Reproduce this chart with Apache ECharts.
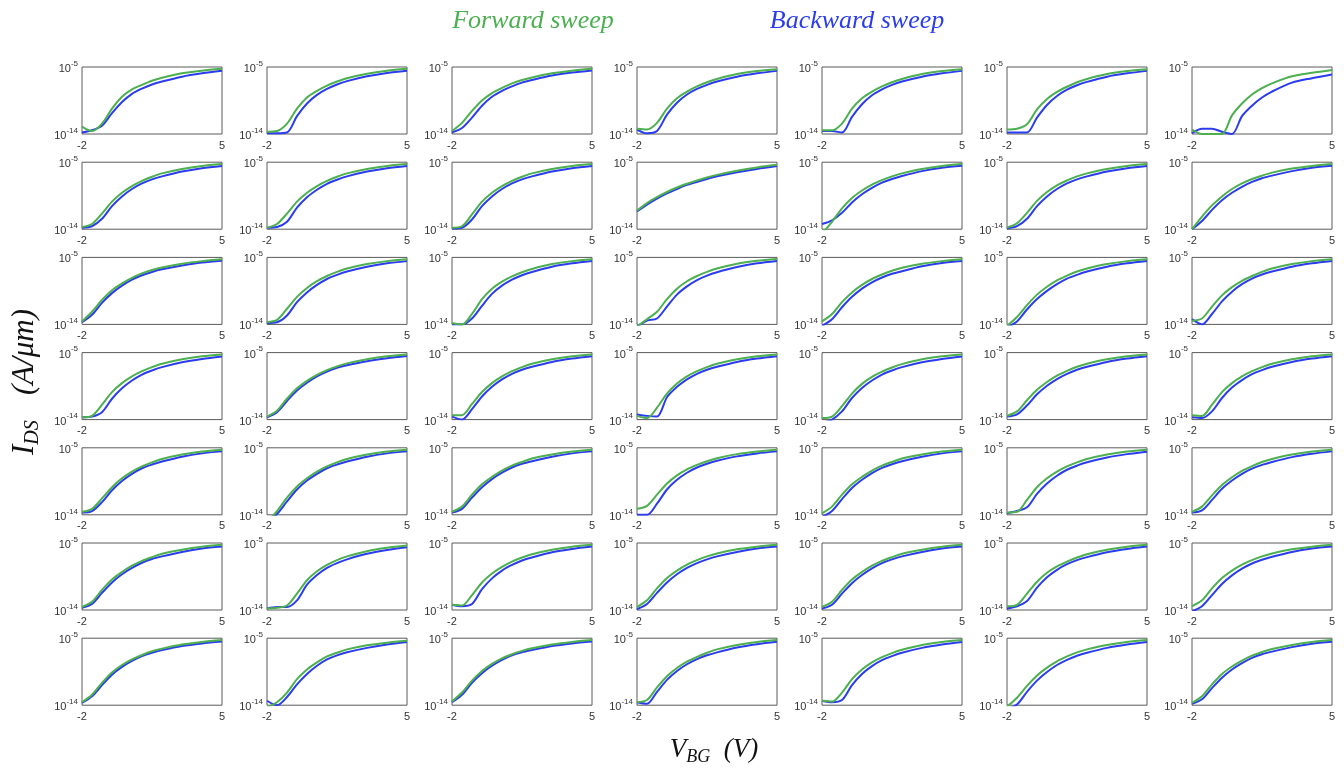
<!DOCTYPE html>
<html>
<head>
<meta charset="utf-8">
<script src="https://cdn.jsdelivr.net/npm/echarts@6/dist/echarts.min.js"></script>
<style>
  html, body { margin: 0; padding: 0; background: #ffffff; }
  #chart { width: 1344px; height: 772px; }
</style>
</head>
<body>
<div id="chart"></div>
<script>
// Back-gate sweep points (V)
const gateVoltage = [-2, -1.5, -1, -0.5, 0, 0.5, 1, 1.5, 2, 3, 4, 5];

// Axis tick labels
const xTicks = [-2, 5];
const yTickExponents = [-14, -5];

// log10 of I_DS (A/µm) for each device, forward sweep, one row of 7 devices per array
const forwardRow1 = [
  [-13.0, -13.6, -12.6, -10.6, -9.0, -8.0, -7.4, -6.85, -6.45, -5.85, -5.5, -5.25],
  [-13.7, -13.6, -12.6, -10.6, -9.1, -8.2, -7.5, -6.95, -6.5, -5.9, -5.5, -5.25],
  [-13.6, -12.5, -10.9, -9.5, -8.5, -7.8, -7.2, -6.75, -6.4, -5.85, -5.5, -5.25],
  [-13.3, -13.4, -12.5, -10.6, -9.2, -8.3, -7.6, -7.05, -6.6, -5.95, -5.55, -5.3],
  [-13.5, -13.5, -12.6, -10.6, -9.2, -8.3, -7.6, -7.05, -6.6, -5.95, -5.55, -5.3],
  [-13.4, -13.3, -12.7, -10.7, -9.3, -8.35, -7.65, -7.05, -6.6, -5.95, -5.55, -5.3],
  [-13.4, -14.0, -14.0, -14.0, -11.5, -9.9, -8.7, -7.85, -7.2, -6.25, -5.78, -5.4]
];
const forwardRow2 = [
  [-13.7, -13.3, -11.9, -10.3, -9.1, -8.2, -7.5, -6.95, -6.5, -5.9, -5.5, -5.25],
  [-13.8, -13.3, -11.9, -10.3, -9.1, -8.2, -7.5, -6.95, -6.5, -5.9, -5.5, -5.25],
  [-13.8, -13.6, -12.0, -10.3, -9.1, -8.2, -7.5, -6.95, -6.5, -5.9, -5.5, -5.25],
  [-11.5, -10.5, -9.7, -9.0, -8.4, -7.9, -7.45, -7.05, -6.7, -6.15, -5.7, -5.35],
  [-14.6, -13.0, -11.2, -9.8, -8.8, -8.0, -7.4, -6.9, -6.5, -5.9, -5.5, -5.25],
  [-13.8, -13.2, -11.8, -10.2, -9.0, -8.1, -7.45, -6.9, -6.5, -5.9, -5.5, -5.25],
  [-14.0, -12.3, -10.8, -9.6, -8.6, -7.85, -7.25, -6.8, -6.4, -5.85, -5.5, -5.25]
];
const forwardRow3 = [
  [-13.6, -12.3, -10.7, -9.4, -8.5, -7.75, -7.15, -6.7, -6.35, -5.85, -5.5, -5.25],
  [-13.7, -13.4, -11.9, -10.3, -9.1, -8.2, -7.5, -6.95, -6.5, -5.9, -5.5, -5.25],
  [-13.8, -14.0, -12.6, -10.6, -9.2, -8.25, -7.55, -7.0, -6.55, -5.9, -5.5, -5.25],
  [-14.3, -13.3, -12.3, -10.6, -9.2, -8.2, -7.5, -6.95, -6.5, -5.85, -5.45, -5.2],
  [-13.6, -12.6, -11.0, -9.7, -8.7, -7.9, -7.3, -6.8, -6.4, -5.85, -5.5, -5.25],
  [-14.2, -13.0, -11.4, -10.0, -8.95, -8.1, -7.45, -6.9, -6.5, -5.9, -5.5, -5.25],
  [-13.5, -13.2, -11.6, -10.1, -9.0, -8.15, -7.5, -6.95, -6.5, -5.9, -5.5, -5.25]
];
const forwardRow4 = [
  [-13.7, -13.5, -12.0, -10.3, -9.1, -8.2, -7.5, -6.95, -6.5, -5.9, -5.5, -5.25],
  [-13.6, -12.8, -11.2, -9.8, -8.8, -8.0, -7.35, -6.85, -6.45, -5.9, -5.5, -5.25],
  [-13.4, -13.4, -11.9, -10.3, -9.1, -8.2, -7.5, -6.95, -6.5, -5.9, -5.5, -5.25],
  [-13.5, -13.8, -12.4, -10.5, -9.15, -8.2, -7.5, -6.95, -6.5, -5.9, -5.5, -5.25],
  [-13.8, -13.6, -12.2, -10.5, -9.2, -8.25, -7.55, -7.0, -6.55, -5.9, -5.5, -5.25],
  [-13.5, -12.9, -11.4, -10.0, -8.95, -8.1, -7.45, -6.9, -6.5, -5.9, -5.5, -5.25],
  [-13.4, -13.5, -12.0, -10.3, -9.1, -8.2, -7.5, -6.95, -6.5, -5.9, -5.5, -5.25]
];
const forwardRow5 = [
  [-13.6, -13.2, -11.8, -10.3, -9.1, -8.2, -7.5, -6.95, -6.5, -5.9, -5.5, -5.25],
  [-15.0, -13.5, -11.7, -10.2, -9.1, -8.2, -7.5, -6.95, -6.5, -5.9, -5.5, -5.25],
  [-13.6, -12.9, -11.3, -9.9, -8.9, -8.05, -7.4, -6.9, -6.45, -5.9, -5.5, -5.25],
  [-13.2, -12.8, -11.3, -9.8, -8.7, -7.9, -7.3, -6.8, -6.4, -5.85, -5.5, -5.25],
  [-13.8, -12.9, -11.3, -9.9, -8.9, -8.05, -7.4, -6.9, -6.45, -5.9, -5.5, -5.25],
  [-13.7, -13.6, -12.0, -10.3, -9.1, -8.2, -7.5, -6.95, -6.5, -5.9, -5.5, -5.25],
  [-13.6, -12.9, -11.4, -10.0, -8.95, -8.1, -7.45, -6.9, -6.5, -5.9, -5.5, -5.25]
];
const forwardRow6 = [
  [-13.6, -12.9, -11.3, -9.9, -8.9, -8.05, -7.4, -6.9, -6.45, -5.9, -5.5, -5.25],
  [-13.8, -13.7, -13.4, -11.8, -10.0, -8.8, -7.95, -7.3, -6.8, -6.1, -5.65, -5.35],
  [-13.3, -13.4, -12.0, -10.3, -9.1, -8.2, -7.5, -6.95, -6.5, -5.9, -5.5, -5.25],
  [-13.6, -12.7, -11.1, -9.7, -8.7, -7.9, -7.3, -6.8, -6.4, -5.85, -5.5, -5.25],
  [-13.6, -12.9, -11.3, -9.9, -8.9, -8.05, -7.4, -6.9, -6.45, -5.9, -5.5, -5.25],
  [-13.5, -13.3, -11.8, -10.2, -9.0, -8.15, -7.5, -6.95, -6.5, -5.9, -5.5, -5.25],
  [-13.5, -12.7, -11.1, -9.7, -8.7, -7.9, -7.3, -6.8, -6.4, -5.85, -5.5, -5.25]
];
const forwardRow7 = [
  [-13.6, -12.6, -11.0, -9.6, -8.6, -7.85, -7.25, -6.75, -6.4, -5.85, -5.5, -5.25],
  [-14.3, -13.6, -12.3, -10.5, -9.2, -8.25, -7.45, -6.95, -6.5, -5.95, -5.6, -5.35],
  [-13.5, -12.3, -10.7, -9.4, -8.45, -7.7, -7.15, -6.7, -6.35, -5.85, -5.5, -5.25],
  [-13.6, -13.3, -11.6, -10.1, -9.0, -8.15, -7.5, -6.95, -6.5, -5.9, -5.5, -5.25],
  [-13.4, -13.5, -12.3, -10.5, -9.2, -8.25, -7.55, -7.0, -6.55, -5.9, -5.5, -5.25],
  [-14.2, -13.0, -11.4, -10.0, -8.95, -8.1, -7.45, -6.9, -6.5, -5.9, -5.5, -5.25],
  [-13.7, -12.8, -11.2, -9.8, -8.8, -8.0, -7.35, -6.85, -6.45, -5.9, -5.5, -5.25]
];

// log10 of I_DS (A/µm) for each device, backward sweep
const backwardRow1 = [
  [-13.8, -13.5, -12.9, -11.2, -9.7, -8.6, -7.9, -7.35, -6.95, -6.3, -5.85, -5.5],
  [-13.9, -13.9, -13.8, -11.6, -9.9, -8.75, -7.95, -7.35, -6.9, -6.25, -5.8, -5.5],
  [-13.8, -13.2, -11.8, -10.2, -9.0, -8.2, -7.6, -7.1, -6.75, -6.15, -5.75, -5.47],
  [-13.4, -13.9, -13.6, -11.4, -9.8, -8.7, -7.95, -7.4, -6.95, -6.3, -5.85, -5.52],
  [-13.6, -13.6, -13.8, -11.7, -10.0, -8.8, -8.0, -7.4, -6.95, -6.3, -5.85, -5.52],
  [-13.8, -13.8, -13.8, -11.8, -10.1, -8.9, -8.05, -7.45, -7.0, -6.3, -5.85, -5.52],
  [-13.9, -13.3, -13.3, -13.7, -14.0, -11.6, -10.2, -9.1, -8.3, -7.1, -6.5, -6.0]
];
const backwardRow2 = [
  [-13.8, -13.6, -12.6, -10.9, -9.6, -8.6, -7.85, -7.3, -6.9, -6.25, -5.8, -5.5],
  [-13.8, -13.7, -13.0, -11.1, -9.7, -8.7, -7.9, -7.35, -6.9, -6.25, -5.8, -5.5],
  [-13.9, -13.8, -12.7, -10.9, -9.6, -8.6, -7.85, -7.3, -6.9, -6.25, -5.8, -5.5],
  [-11.6, -10.7, -9.9, -9.2, -8.6, -8.05, -7.65, -7.25, -6.9, -6.35, -5.9, -5.52],
  [-13.3, -12.8, -11.8, -10.4, -9.3, -8.45, -7.75, -7.25, -6.85, -6.2, -5.75, -5.48],
  [-13.9, -13.6, -12.6, -10.9, -9.6, -8.6, -7.85, -7.3, -6.9, -6.25, -5.8, -5.5],
  [-14.0, -12.9, -11.4, -10.1, -9.1, -8.3, -7.65, -7.15, -6.8, -6.2, -5.75, -5.48]
];
const backwardRow3 = [
  [-13.7, -12.7, -11.1, -9.8, -8.8, -8.0, -7.4, -6.95, -6.6, -6.1, -5.7, -5.45],
  [-13.8, -13.7, -12.8, -11.0, -9.7, -8.7, -7.9, -7.35, -6.9, -6.25, -5.8, -5.5],
  [-14.0, -14.0, -13.2, -11.5, -9.9, -8.8, -8.0, -7.4, -6.95, -6.25, -5.8, -5.48],
  [-14.3, -13.5, -13.2, -11.6, -10.0, -8.9, -8.05, -7.45, -7.0, -6.3, -5.8, -5.48],
  [-14.2, -13.3, -11.7, -10.3, -9.2, -8.35, -7.7, -7.2, -6.85, -6.2, -5.75, -5.48],
  [-14.4, -13.6, -12.0, -10.6, -9.5, -8.6, -7.85, -7.35, -6.9, -6.25, -5.8, -5.48],
  [-13.3, -14.0, -12.6, -10.9, -9.6, -8.6, -7.85, -7.3, -6.9, -6.25, -5.8, -5.48]
];
const backwardRow4 = [
  [-13.7, -13.6, -13.0, -11.2, -9.8, -8.75, -7.95, -7.4, -6.95, -6.3, -5.85, -5.52],
  [-13.7, -13.0, -11.5, -10.1, -9.05, -8.2, -7.55, -7.05, -6.7, -6.15, -5.75, -5.45],
  [-13.6, -14.0, -12.6, -10.9, -9.6, -8.6, -7.85, -7.3, -6.9, -6.25, -5.8, -5.48],
  [-13.3, -13.5, -13.6, -11.0, -9.6, -8.6, -7.85, -7.3, -6.9, -6.25, -5.8, -5.48],
  [-14.4, -14.0, -12.9, -11.1, -9.75, -8.75, -7.95, -7.4, -6.95, -6.3, -5.85, -5.52],
  [-13.6, -13.3, -12.1, -10.6, -9.45, -8.55, -7.85, -7.3, -6.9, -6.25, -5.8, -5.48],
  [-13.7, -13.8, -12.9, -11.1, -9.7, -8.7, -7.9, -7.35, -6.9, -6.25, -5.8, -5.48]
];
const backwardRow5 = [
  [-13.7, -13.5, -12.3, -10.7, -9.45, -8.5, -7.75, -7.25, -6.85, -6.2, -5.75, -5.48],
  [-15.0, -13.9, -12.2, -10.6, -9.4, -8.5, -7.75, -7.25, -6.85, -6.2, -5.75, -5.48],
  [-13.7, -13.2, -11.7, -10.3, -9.2, -8.35, -7.65, -7.15, -6.8, -6.2, -5.75, -5.48],
  [-14.0, -14.0, -12.5, -10.6, -9.3, -8.35, -7.65, -7.15, -6.75, -6.15, -5.75, -5.48],
  [-14.3, -13.5, -11.9, -10.4, -9.3, -8.4, -7.7, -7.2, -6.8, -6.2, -5.75, -5.48],
  [-13.8, -13.5, -13.0, -11.2, -9.8, -8.75, -7.95, -7.4, -6.95, -6.3, -5.85, -5.52],
  [-13.7, -13.4, -12.0, -10.5, -9.4, -8.5, -7.8, -7.3, -6.9, -6.25, -5.8, -5.48]
];
const backwardRow6 = [
  [-13.7, -13.2, -11.7, -10.3, -9.2, -8.35, -7.65, -7.15, -6.8, -6.2, -5.75, -5.48],
  [-13.8, -13.6, -13.6, -12.7, -10.6, -9.3, -8.35, -7.7, -7.2, -6.45, -5.95, -5.58],
  [-13.3, -13.5, -13.2, -11.2, -9.75, -8.7, -7.95, -7.35, -6.95, -6.25, -5.8, -5.48],
  [-13.9, -13.2, -11.7, -10.3, -9.2, -8.35, -7.7, -7.2, -6.8, -6.2, -5.75, -5.48],
  [-13.8, -13.3, -11.8, -10.4, -9.3, -8.4, -7.7, -7.2, -6.8, -6.2, -5.75, -5.48],
  [-13.8, -13.5, -12.8, -11.0, -9.6, -8.6, -7.85, -7.3, -6.9, -6.25, -5.8, -5.48],
  [-14.2, -13.5, -12.0, -10.5, -9.35, -8.45, -7.75, -7.25, -6.85, -6.2, -5.75, -5.48]
];
const backwardRow7 = [
  [-13.7, -12.8, -11.3, -9.9, -8.85, -8.05, -7.4, -6.95, -6.6, -6.05, -5.7, -5.45],
  [-13.4, -14.0, -12.9, -11.2, -9.8, -8.7, -7.85, -7.3, -6.9, -6.3, -5.85, -5.52],
  [-13.6, -12.6, -11.0, -9.7, -8.7, -7.9, -7.3, -6.9, -6.6, -6.05, -5.7, -5.45],
  [-13.6, -13.8, -12.2, -10.6, -9.4, -8.5, -7.8, -7.3, -6.9, -6.25, -5.8, -5.48],
  [-13.4, -13.6, -13.3, -11.3, -9.8, -8.75, -7.95, -7.4, -6.95, -6.3, -5.85, -5.52],
  [-14.5, -13.9, -12.2, -10.7, -9.55, -8.6, -7.9, -7.35, -6.95, -6.3, -5.85, -5.52],
  [-13.8, -13.2, -11.7, -10.3, -9.2, -8.35, -7.65, -7.15, -6.8, -6.2, -5.75, -5.48]
];

const forwardRows = [forwardRow1, forwardRow2, forwardRow3, forwardRow4, forwardRow5, forwardRow6, forwardRow7];
const backwardRows = [backwardRow1, backwardRow2, backwardRow3, backwardRow4, backwardRow5, backwardRow6, backwardRow7];

const FORWARD_COLOR = '#4caf50';
const BACKWARD_COLOR = '#2b3cef';
const TICK_COLOR = '#333333';
const FRAME_COLOR = '#5a5a5a';

// Panel layout (px)
const PANEL_LEFT = 82, PANEL_STEP_X = 185, PANEL_W = 140;
const PANEL_TOP = 67, PANEL_STEP_Y = 95.2, PANEL_H = 67;

function toPoints(exps) {
  return gateVoltage.map((v, i) => [v, Math.pow(10, exps[i])]);
}

function yLabel(val) {
  const lg = Math.log10(val);
  const e = Math.round(lg);
  if (Math.abs(lg - e) > 1e-6 || yTickExponents.indexOf(e) < 0) return '';
  return '{b|10}{s|' + e + '}';
}

const tickFont = 'Liberation Sans, Arial, sans-serif';

const grids = [], xAxes = [], yAxes = [], series = [];
for (let r = 0; r < 7; r++) {
  for (let c = 0; c < 7; c++) {
    const idx = r * 7 + c;
    grids.push({
      left: PANEL_LEFT + PANEL_STEP_X * c,
      top: PANEL_TOP + PANEL_STEP_Y * r,
      width: PANEL_W,
      height: PANEL_H,
      show: true,
      borderColor: FRAME_COLOR,
      borderWidth: 1,
      backgroundColor: 'rgba(0,0,0,0)'
    });
    xAxes.push({
      gridIndex: idx,
      type: 'value',
      min: -2,
      max: 5,
      axisLine: { show: false },
      axisTick: { show: false },
      splitLine: { show: false },
      axisLabel: {
        customValues: xTicks,
        color: TICK_COLOR,
        fontSize: 11,
        fontFamily: tickFont,
        margin: 6
      }
    });
    yAxes.push({
      gridIndex: idx,
      type: 'log',
      logBase: 10,
      min: 1e-14,
      max: 1e-5,
      axisLine: { show: false },
      axisTick: { show: false },
      splitLine: { show: false },
      axisLabel: {
        interval: 0,
        showMinLabel: true,
        showMaxLabel: true,
        margin: 4,
        formatter: yLabel,
        rich: {
          b: { fontSize: 11, color: TICK_COLOR, fontFamily: tickFont, lineHeight: 15, verticalAlign: 'bottom' },
          s: { fontSize: 8, color: TICK_COLOR, fontFamily: tickFont, lineHeight: 15, verticalAlign: 'top' }
        }
      }
    });
    series.push({
      name: 'Backward sweep',
      type: 'line',
      xAxisIndex: idx,
      yAxisIndex: idx,
      data: toPoints(backwardRows[r][c]),
      showSymbol: false,
      smooth: 0.3,
      clip: true,
      lineStyle: { color: BACKWARD_COLOR, width: 2 },
      z: 2
    });
    series.push({
      name: 'Forward sweep',
      type: 'line',
      xAxisIndex: idx,
      yAxisIndex: idx,
      data: toPoints(forwardRows[r][c]),
      showSymbol: false,
      smooth: 0.3,
      clip: true,
      lineStyle: { color: FORWARD_COLOR, width: 2 },
      z: 3
    });
  }
}

const serif = 'Liberation Serif, "Times New Roman", serif';

const chart = echarts.init(document.getElementById('chart'), null, { renderer: 'canvas' });
chart.setOption({
  animation: false,
  backgroundColor: '#ffffff',
  grid: grids,
  xAxis: xAxes,
  yAxis: yAxes,
  series: series,
  graphic: [
    {
      type: 'text', x: 533, y: 21,
      style: { text: 'Forward sweep', fill: FORWARD_COLOR, fontSize: 26, fontStyle: 'italic', fontFamily: serif, align: 'center', verticalAlign: 'middle' }
    },
    {
      type: 'text', x: 857, y: 21,
      style: { text: 'Backward sweep', fill: BACKWARD_COLOR, fontSize: 26, fontStyle: 'italic', fontFamily: serif, align: 'center', verticalAlign: 'middle' }
    },
    {
      type: 'text', x: 25, y: 382, rotation: Math.PI / 2,
      style: {
        text: '{m|I}{d|DS}{m|   (A/μm)}',
        align: 'center', verticalAlign: 'middle',
        rich: {
          m: { fontSize: 31, fontStyle: 'italic', fontFamily: serif, fill: '#111', lineHeight: 36, verticalAlign: 'middle' },
          d: { fontSize: 20, fontStyle: 'italic', fontFamily: serif, fill: '#111', lineHeight: 36, verticalAlign: 'bottom', padding: [0, 2, 0, 0] }
        }
      }
    },
    {
      type: 'text', x: 714, y: 750,
      style: {
        text: '{m|V}{d|BG}{m|  (V)}',
        align: 'center', verticalAlign: 'middle',
        rich: {
          m: { fontSize: 27, fontStyle: 'italic', fontFamily: serif, fill: '#111', lineHeight: 32, verticalAlign: 'middle' },
          d: { fontSize: 18, fontStyle: 'italic', fontFamily: serif, fill: '#111', lineHeight: 32, verticalAlign: 'bottom' }
        }
      }
    }
  ]
});
</script>
</body>
</html>
